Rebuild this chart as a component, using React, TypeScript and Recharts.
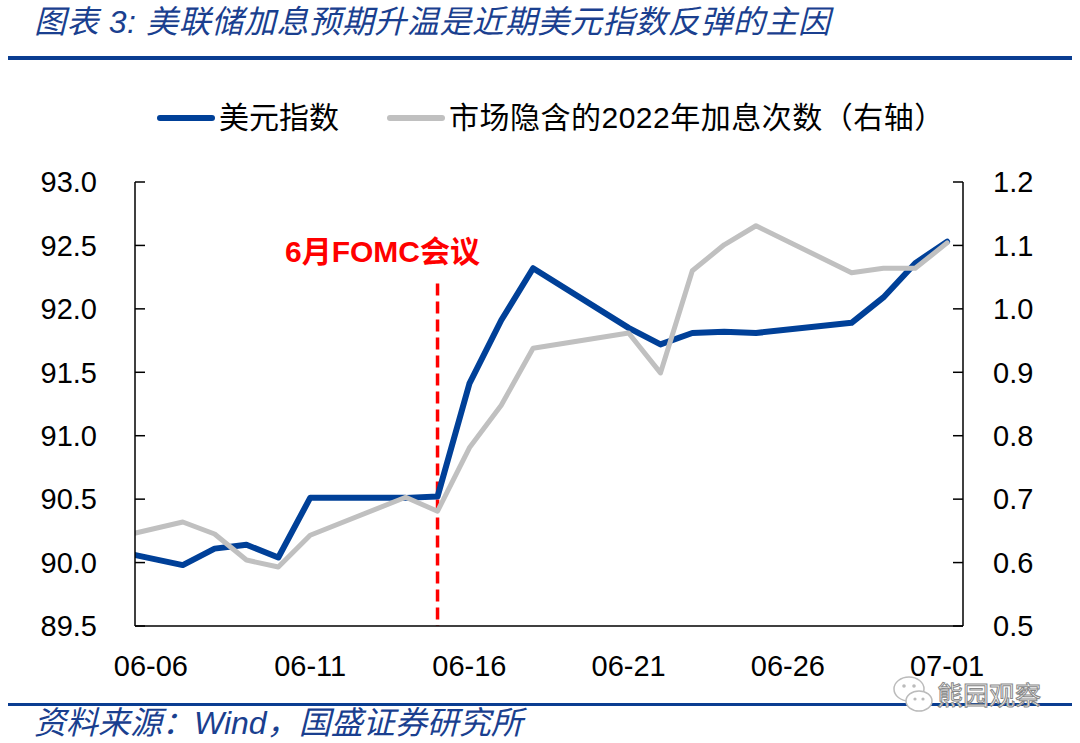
import React from 'react';
import { LineChart, Line, XAxis, YAxis, ReferenceLine } from 'recharts';

// day index: 06-06 = 0 ... 07-01 = 25 (calendar days, trading days only have data)
const dayIndex = [-2, 1, 2, 3, 4, 5, 8, 9, 10, 11, 12, 15, 16, 17, 18, 19, 22, 23, 24, 25];
const dxy = [90.14, 89.98, 90.11, 90.14, 90.04, 90.51, 90.51, 90.52, 91.41, 91.91, 92.32, 91.85, 91.72, 91.81, 91.82, 91.81, 91.89, 92.09, 92.36, 92.53];
const hikes2022 = [0.629, 0.664, 0.645, 0.604, 0.593, 0.643, 0.703, 0.681, 0.781, 0.848, 0.938, 0.962, 0.899, 1.06, 1.101, 1.131, 1.057, 1.064, 1.064, 1.104];

const xLabelIdx = [0, 5, 10, 15, 20, 25];
const xLabels = ['06-06', '06-11', '06-16', '06-21', '06-26', '07-01'];
const xMarkIdx = [-0.5, 4.5, 9.5, 14.5, 19.5, 24.5];
const leftTicks = [89.5, 90.0, 90.5, 91.0, 91.5, 92.0, 92.5, 93.0];
const rightTicks = [0.5, 0.6, 0.7, 0.8, 0.9, 1.0, 1.1, 1.2];
const fomcIdx = 9; // 06-15

const data = dayIndex.map((d, k) => ({ i: d, dxy: dxy[k], hikes: hikes2022[k] }));

const BLUE = '#004098';
const GRAY = '#C0C0C0';
const TITLE_BLUE = '#1A3F8F';
const RULE = '#0A3D91';
const NUM_FONT = '"Liberation Sans", Arial, sans-serif';
const CJK_FONT = '"Liberation Sans", "Noto Sans CJK SC", sans-serif';

const tickStyle = { fontFamily: NUM_FONT, fontSize: 29, fill: '#000' };

export default function App() {
  return (
    <div style={{ position: 'absolute', left: 0, top: 0, width: 1080, height: 743, background: '#fff', overflow: 'hidden' }}>
      <div style={{ position: 'absolute', left: 34, top: 1, fontFamily: CJK_FONT, fontStyle: 'italic', fontSize: 32, letterSpacing: 0.6, color: TITLE_BLUE, whiteSpace: 'nowrap', lineHeight: '42px' }}>
        图表 3:&nbsp;美联储加息预期升温是近期美元指数反弹的主因
      </div>
      <div style={{ position: 'absolute', left: 8, top: 56, width: 1064, height: 4, background: RULE }} />

      {/* legend */}
      <div style={{ position: 'absolute', left: 157, top: 115, width: 58, height: 6, background: BLUE, borderRadius: 3 }} />
      <div style={{ position: 'absolute', left: 219, top: 97, fontFamily: CJK_FONT, fontSize: 30, color: '#000', lineHeight: '42px', whiteSpace: 'nowrap' }}>美元指数</div>
      <div style={{ position: 'absolute', left: 387, top: 115, width: 58, height: 6, background: GRAY, borderRadius: 3 }} />
      <div style={{ position: 'absolute', left: 449, top: 97, fontFamily: CJK_FONT, fontSize: 30, letterSpacing: 0.5, color: '#000', lineHeight: '42px', whiteSpace: 'nowrap' }}>市场隐含的2022年加息次数（右轴）</div>

      <div style={{ position: 'absolute', left: 0, top: 0 }}>
        <LineChart width={1080} height={743} data={data} margin={{ top: 182, right: 17, bottom: 57, left: 35 }}>
          <XAxis xAxisId="m" dataKey="i" type="number" domain={[-0.5, 25.5]} allowDataOverflow ticks={xMarkIdx} interval={0}
            mirror height={1} tick={false} tickSize={10} axisLine={false} tickLine={{ stroke: '#000', strokeWidth: 1.5 }} />
          <XAxis xAxisId={0} dataKey="i" type="number" domain={[-0.5, 25.5]} allowDataOverflow ticks={xLabelIdx} interval={0}
            height={60} tickSize={0} tickMargin={29} tickLine={false}
            axisLine={{ stroke: '#000', strokeWidth: 1.5 }}
            tickFormatter={(v: number) => xLabels[xLabelIdx.indexOf(v)] ?? ''} tick={tickStyle} />
          <YAxis yAxisId="l" orientation="left" width={100} domain={[89.5, 93]} ticks={leftTicks} interval={0}
            allowDataOverflow tickSize={-10} tickMargin={48} tick={tickStyle}
            axisLine={{ stroke: '#000', strokeWidth: 1.5 }} tickLine={{ stroke: '#000', strokeWidth: 1.5 }}
            tickFormatter={(v: number) => v.toFixed(1)} />
          <YAxis yAxisId="r" orientation="right" width={100} domain={[0.5, 1.2]} ticks={rightTicks} interval={0}
            allowDataOverflow tickSize={-10} tickMargin={40} tick={tickStyle}
            axisLine={{ stroke: '#000', strokeWidth: 1.5 }} tickLine={{ stroke: '#000', strokeWidth: 1.5 }}
            tickFormatter={(v: number) => v.toFixed(1)} />
          <ReferenceLine yAxisId="l" xAxisId={0} segment={[{ x: fomcIdx, y: 92.2 }, { x: fomcIdx, y: 89.5 }]}
            stroke="#FF0000" strokeWidth={3.5} strokeDasharray="12 6" />
          <Line yAxisId="l" xAxisId={0} dataKey="dxy" stroke={BLUE} strokeWidth={6} dot={false} isAnimationActive={false}
            strokeLinejoin="round" strokeLinecap="round" />
          <Line yAxisId="r" xAxisId={0} dataKey="hikes" stroke={GRAY} strokeWidth={5} dot={false} isAnimationActive={false}
            strokeLinejoin="round" strokeLinecap="round" />
        </LineChart>
      </div>

      <div style={{ position: 'absolute', left: 285, top: 231, fontFamily: CJK_FONT, fontWeight: 700, fontSize: 30, color: '#FF0000', lineHeight: '42px', whiteSpace: 'nowrap' }}>
        6月FOMC会议
      </div>

      <div style={{ position: 'absolute', left: 8, top: 703, width: 1064, height: 3, background: RULE }} />
      <div style={{ position: 'absolute', left: 34, top: 702, fontFamily: CJK_FONT, fontStyle: 'italic', fontSize: 32, color: TITLE_BLUE, lineHeight: '42px', whiteSpace: 'nowrap' }}>
        资料来源：Wind，国盛证券研究所
      </div>

      {/* watermark */}
      <svg style={{ position: 'absolute', left: 892, top: 674 }} width={44} height={44} viewBox="0 0 44 44">
        <ellipse cx={17} cy={15} rx={15} ry={12} fill="#fff" stroke="#bbb" strokeWidth={1.5} />
        <circle cx={12} cy={12} r={1.8} fill="#bbb" />
        <circle cx={22} cy={12} r={1.8} fill="#bbb" />
        <ellipse cx={27} cy={27} rx={13} ry={10} fill="#fff" stroke="#bbb" strokeWidth={1.5} />
        <circle cx={23} cy={25} r={1.6} fill="#bbb" />
        <circle cx={31} cy={25} r={1.6} fill="#bbb" />
      </svg>
      <div style={{ position: 'absolute', left: 937, top: 681, fontFamily: '"Noto Sans CJK SC", sans-serif', fontSize: 26, color: '#fff', WebkitTextStroke: '1px #888', lineHeight: '26px', whiteSpace: 'nowrap' }}>
        熊园观察
      </div>
    </div>
  );
}
